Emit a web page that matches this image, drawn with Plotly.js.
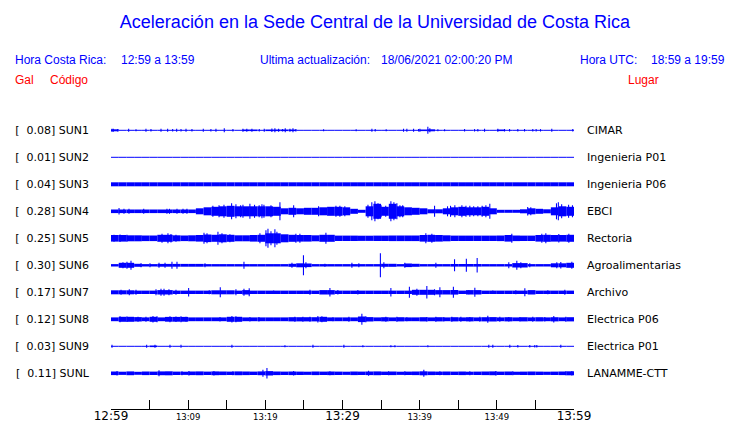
<!DOCTYPE html>
<html>
<head>
<meta charset="utf-8">
<script src="https://cdn.plot.ly/plotly-3.0.1.min.js"></script>
<style>html,body{margin:0;padding:0;background:#fff;}#chart{width:740px;height:423px;}</style>
</head>
<body>
<div id="chart"></div>
<script>
// ---------------- DATA ----------------
const stations = ['SUN1','SUN2','SUN3','SUN4','SUN5','SUN6','SUN7','SUN8','SUN9','SUNL'];
const peakGal = [0.08,0.01,0.04,0.28,0.25,0.30,0.17,0.12,0.03,0.11];
const places = ['CIMAR','Ingenieria P01','Ingenieria P06','EBCI','Rectoria','Agroalimentarias','Archivo','Electrica P06','Electrica P01','LANAMME-CTT'];
const tickMinutes = [0,5,10,15,20,25,30,35,40,45,50,55,60];
const tickLabels = ['12:59','','13:09','','13:19','','13:29','','13:39','','13:49','','13:59'];

// per-minute envelope (half amplitude) of each record, minutes 0..59 after 12:59
const sun1Env = [1,0.5,0.5,0.5,0.5,0.5,0.5,0.5,0.5,0.5, 0.5,0.5,0.5,0.5,0.5,0.5,0.5,0.8,0.8,0.5, 0.8,0.8,0.8,0.8,0.5,0.5,0.5,0.5,0.5,0.5, 0.5,0.5,0.5,0.5,0.5,0.5,0.5,0.5,0.5,0.5, 0.8,1,0.5,0.5,0.5,0.5,0.5,0.5,0.5,0.5, 0.8,0.5,0.5,0.5,0.5,0.5,0.5,0.5,0.5,0.5];
const sun2Env = [0.5,0.5,0.5,0.5,0.5,0.5,0.5,0.5,0.5,0.5, 0.5,0.5,0.5,0.5,0.5,0.5,0.5,0.5,0.5,0.5, 0.5,0.5,0.5,0.5,0.5,0.5,0.5,0.5,0.5,0.5, 0.5,0.5,0.5,0.5,0.5,0.5,0.5,0.5,0.5,0.5, 0.5,0.5,0.5,0.5,0.5,0.5,0.5,0.5,0.5,0.5, 0.5,0.5,0.5,0.5,0.5,0.5,0.5,0.5,0.5,0.5];
const sun3Env = [2,2,2,2,2,2,2,2,2,2, 2,2,2,2,2,2,2,2,2,2, 2,2,2,2,2,2,2,2,2,2, 2,2,2,2,2,2,2,2,2,2, 2,2,2,2,2,2,2,2,2,2, 2,2,2,2,2,2,2,2,2,2];
const sun4Env = [1.8,1.8,1.8,1.8,1.8,1.8,1.8,1.8,1.8,1.8, 1.8,3,4,4.5,5,5.5,5,5,5,5, 5,4.5,3,3.5,3,3.5,3.5,4,4.5,4.5, 4,2.5,1.5,5,7.5,4.5,7.5,5,4,3.5, 3,2,2,3,4,4.5,4,4,4.5,3, 1.5,1.5,1.5,2,3,2.5,2,4,5,4.5];
const sun5Env = [3.3,3.3,3,3,2.8,2.8,3.5,3.5,3,2.8, 3,3.3,3.8,3.5,4,3.5,3,3,3.3,3.5, 5,5,4,3.5,3.3,3.3,3,3.5,3.5,2.7, 2.7,2.7,2.6,2.6,2.7,2.7,2.8,2.8,2.8,2.8, 3.3,3.5,3.3,3,2.7,2.7,2.7,2.7,2.7,2.7, 2.8,3.3,2.8,2.7,2.7,3.3,3.5,3.3,3.3,3.5];
const sun6Env = [1.2,2.5,2.5,1.5,1.2,1.2,1.4,1.4,1.4,1.4, 1.4,1.4,1.2,1.2,1.2,1.2,1.2,1.2,1.2,1.2, 1.2,1.2,1.2,1.5,2,1.8,1.2,1.2,1.2,1.2, 1.2,1.2,1.2,1.2,1.2,1.5,1.5,1.2,1.8,1.5, 1.2,1.2,1.2,1.2,1.3,1.3,1.3,1.3,1.2,1.2, 1.2,1.2,2.2,2.2,1.2,1.2,1.2,2,2,2.5];
const sun7Env = [2,2,2,1.7,1.7,1.7,2.2,2.2,1.7,1.7, 1.7,1.7,1.7,2,2,2,1.7,2.2,1.7,1.7, 1.7,1.7,1.7,1.7,1.7,1.7,1.7,2.2,2.2,1.7, 1.7,1.7,1.7,1.7,1.7,1.7,1.7,1.7,1.7,2.5, 2.5,2.5,2.2,2.2,2.3,1.7,2.2,2.2,1.7,1.7, 1.7,1.7,1.7,1.7,2.2,1.7,1.7,1.7,1.7,1.7];
const sun8Env = [1.9,2.5,2.5,2.2,1.9,2.5,1.9,2.4,2.4,2.4, 1.9,1.9,1.9,1.9,1.9,2.5,2.5,1.9,1.9,1.9, 1.9,1.9,1.9,2.1,2.1,2.1,2.1,2.5,1.9,1.9, 1.9,1.9,2.8,2.2,1.9,2.1,1.9,2.1,1.9,1.9, 2.1,1.9,2.1,1.9,2.1,1.9,2.1,1.9,2.1,2.2, 1.9,2.1,1.9,2.1,1.9,2.1,1.9,2.1,1.9,2.1];
const sun9Env = [0.5,0.5,0.5,0.5,0.5,0.8,0.5,0.5,0.5,0.5, 0.5,0.5,0.5,0.5,0.5,0.5,0.5,0.5,0.5,0.5, 0.5,0.5,0.5,0.5,0.5,0.5,0.5,0.5,0.5,0.5, 0.5,0.5,0.5,0.5,0.5,0.5,0.5,0.5,0.5,0.5, 0.5,0.5,0.5,0.5,0.5,0.5,0.5,0.5,0.5,0.5, 0.5,0.5,0.5,0.5,0.5,0.5,0.5,0.5,0.5,0.5];
const sunLEnv = [1.8,1.6,1.9,1.5,1.8,1.7,1.9,2,1.7,1.6, 1.8,1.9,1.7,1.9,1.8,1.7,1.9,1.8,1.7,1.9, 2.2,1.8,1.7,1.8,1.7,1.6,1.8,1.7,1.8,1.7, 1.6,1.8,1.7,1.8,1.9,1.7,1.8,1.6,1.7,1.8, 2,1.8,1.7,1.8,1.7,1.8,1.6,1.7,1.8,1.9, 1.7,1.8,1.6,1.7,1.8,1.7,1.6,1.7,1.8,2];

// individual peaks: [minute after 12:59, half amplitude]
const sun1Peaks = [[0.13,1.5],[0.3,1.5],[0.87,1.2],[2.29,1.5],[3.24,1],[4.53,1.5],[5.18,1.2],[6.48,1.5],[7.34,1.5],[7.99,1.2],[8.51,1.5],[9.07,1.2],[9.72,1.5],[10.49,1.2],[11.96,1.5],[12.95,1.2],[13.6,1.5],[14.68,2],[15.8,1.2],[17.1,1.5],[17.6,1.5],[18.26,1.5],[19.21,1.2],[19.86,1.5],[20.85,1.8],[21.24,2],[21.72,1.5],[22.24,1.2],[22.58,2],[23.19,1.5],[23.58,2],[23.96,1.2],[27.55,1],[31.77,1],[33.81,1.5],[34.24,1.2],[35.66,1],[37.91,1.5],[38.34,1.5],[39.21,1.5],[39.86,1.2],[40.03,1.5],[41.06,3.5],[41.32,2],[42.36,1],[43.23,1],[45.82,1.2],[47.11,1.2],[47.54,1.2],[48.41,1.5],[50.13,1.5],[51.0,1.2],[51.65,1.2],[52.72,1.2],[53.59,1.2],[54.66,1.2],[55.09,1.2],[55.66,1.2],[57.12,1.5],[59.84,1.2]];
const sun2Peaks = [];
const sun3Peaks = [];
const sun4Peaks = [[1.04,3.3],[1.68,2.5],[2.33,2.5],[4.24,2.5],[7.25,2.5],[7.58,2.5],[8.55,2.5],[9.33,2.5],[9.84,2.5],[13.2,5.5],[14.0,6],[14.64,6.5],[15.63,8],[16.19,7],[16.8,6],[17.1,6.5],[18.0,7.5],[18.6,6.5],[19.2,6],[19.56,7],[19.82,6.5],[20.73,6],[21.89,9],[23.67,6],[26.9,5],[29.15,5.5],[29.66,5.5],[30.3,5],[33.3,6.5],[33.8,9],[34.2,10],[34.6,8],[35.0,6],[35.6,5.5],[36.27,10],[36.66,9],[37.05,8],[37.44,6],[37.8,6],[41.93,5.5],[43.61,5],[44.0,5.5],[44.56,6],[45.47,6],[46.0,5.5],[46.5,5.5],[47.0,5],[47.54,5],[48.1,5.5],[48.58,6],[49.09,7.5],[54.0,4.3],[54.4,4],[57.73,8],[57.97,9],[58.4,7],[59.3,6.5],[59.8,6]];
const sun5Peaks = [[0.39,3.5],[1.17,3.8],[2.07,3.5],[6.61,4.5],[7.38,5],[7.77,4.3],[8.42,3.5],[12.05,5.5],[12.44,5],[13.86,6.5],[14.38,5],[15.41,4],[19.3,5],[20.08,8],[20.34,9.5],[20.73,7],[21.24,9],[21.5,6.5],[23.96,4.5],[24.48,4.5],[27.85,5.5],[40.8,5],[41.58,4.5],[51.94,4.5],[55.83,4.5],[56.35,5],[58.03,4.3],[59.33,4.5]];
const sun6Peaks = [[1.55,3],[2.07,3.5],[2.59,4.5],[3.89,2],[5.05,2],[6.22,2.5],[7.0,2.5],[7.9,3.5],[8.55,3.5],[12.18,2],[17.23,3.5],[23.45,2.5],[24.94,10],[25.26,3],[27.72,1.5],[31.22,2.5],[32.12,2],[34.91,12],[35.36,3],[38.08,2.5],[42.1,2.5],[44.52,6],[46.05,6.5],[47.45,7.3],[51.55,3],[52.59,4.5],[53.11,3],[54.27,2],[57.77,3],[58.29,3.3],[59.72,3.5]];
const sun7Peaks = [[1.3,2.5],[2.37,3],[3.24,2.5],[5.83,3],[6.48,3.5],[6.87,3.5],[7.51,3],[8.42,2.5],[10.06,4.2],[12.73,2],[14.16,5],[16.19,3],[17.23,3.5],[17.91,4],[21.08,1.8],[25.78,2.5],[28.37,4.3],[29.4,2.2],[31.99,2.2],[36.27,4.2],[38.67,5.5],[39.64,3.5],[40.93,6.3],[41.93,3],[42.62,5],[44.37,5.5],[46.37,2],[47.15,4.5],[49.48,1.8],[52.46,2],[53.63,4],[56.61,2],[58.81,2.5]];
const sun8Peaks = [[1.17,3],[2.07,2.8],[3.5,2.5],[4.53,2.5],[5.44,3.2],[5.96,3],[7.64,3],[8.42,2.8],[9.07,3],[9.72,2.5],[14.12,2.3],[15.67,3.3],[16.19,3],[18.0,2.3],[19.17,2.3],[23.83,2.5],[24.87,2.5],[25.78,2.5],[26.81,3.3],[27.33,3],[28.76,2],[30.83,2.5],[32.51,5.5],[33.03,3],[35.62,2.5],[37.05,2.5],[38.34,2],[40.93,2.3],[42.1,2.5],[43.13,2.3],[44.17,2.5],[45.34,2.5],[46.5,2.3],[47.8,2.5],[48.83,3.5],[50.39,2.5],[51.55,2.3],[52.98,2.3],[54.66,2.5],[56.22,2.3],[57.38,3.3],[58.94,2.5]];
const sun9Peaks = [[0.13,1.5],[4.62,1.5],[5.7,1.5],[7.64,1.5],[9.07,1.5],[15.67,1.5],[22.54,1],[26.17,1.5],[30.18,1.5],[32.64,1],[36.27,1],[36.79,1],[41.06,1],[48.96,1.5],[49.48,1.5],[51.68,1.5],[52.72,1.3],[54.27,1.3],[54.92,1.3],[55.18,1.3],[58.29,1.5]];
const sunLPeaks = [[0.78,2.3],[6.22,3],[9.2,2],[10.1,2.3],[13.34,2.3],[15.8,2],[19.69,3.5],[20.21,5.3],[23.67,2.3],[28.37,2],[33.38,2.5],[35.97,2],[38.08,2],[40.54,3.5],[42.62,2],[46.5,2],[49.87,2.3],[52.07,2],[58.94,2],[59.72,2.3]];

// ---------------- LAYOUT CONSTANTS ----------------
const W = 740, H = 423;
const ML = 111, MR = 166, MT = 115, MB = 14;
const ROW_STEP = 27;          // axis units between records
const TOP_PAD = 15.3;         // axis units above first record
const BLUE = '#0000ff', RED = '#ff0000';
const PLOT_W = W - ML - MR, PLOT_H = H - MT - MB;
const yRange = [PLOT_H - TOP_PAD, -TOP_PAD];

const envs = [sun1Env,sun2Env,sun3Env,sun4Env,sun5Env,sun6Env,sun7Env,sun8Env,sun9Env,sunLEnv];
const peaks = [sun1Peaks,sun2Peaks,sun3Peaks,sun4Peaks,sun5Peaks,sun6Peaks,sun7Peaks,sun8Peaks,sun9Peaks,sunLPeaks];
const centers = stations.map((s, i) => i * ROW_STEP);

const traces = [];
envs.forEach((env, i) => {
  const c = centers[i];
  traces.push({
    type: 'bar', x: env.map((a, k) => k + 0.5), y: env.map(a => 2 * a), base: env.map(a => c - a),
    width: 1, marker: { color: 'rgba(0,0,255,0.999)', line: { width: 0 } }, hoverinfo: 'skip'
  });
  const pk = peaks[i];
  if (pk.length) {
    traces.push({
      type: 'bar', x: pk.map(p => p[0]), y: pk.map(p => 2 * p[1]), base: pk.map(p => c - p[1]),
      width: 0.14, marker: { color: 'rgba(0,0,255,0.999)', line: { width: 0 } }, hoverinfo: 'skip'
    });
  }
});
// dummy trace so the right-hand axis is drawn
traces.push({ type: 'scatter', x: [null], y: [null], yaxis: 'y2', mode: 'markers', hoverinfo: 'skip' });

const leftLabels = stations.map((s, i) => '[\u00a0\u00a0' + peakGal[i].toFixed(2) + '] ' + s);
const xTickText = tickLabels.map((t, i) => (i % 6 === 0 || t === '') ? t : '<span style="font-size:8.5px">' + t + '</span>');

const px = x => (x - ML) / PLOT_W;
const py = y => (H - MB - y) / PLOT_H;
const hdrFont = (c) => ({ family: 'Liberation Sans, Arial, sans-serif', size: 12, color: c });
const ann = (text, x, y, color) => ({
  text, x: px(x), y: py(y), xref: 'paper', yref: 'paper', xanchor: 'left', yanchor: 'middle',
  showarrow: false, font: hdrFont(color), borderpad: 0
});

const layout = {
  width: W, height: H,
  margin: { l: ML, r: MR, t: MT, b: MB, pad: 0 },
  paper_bgcolor: '#fff', plot_bgcolor: '#fff',
  showlegend: false, hovermode: false, barmode: 'overlay',
  title: {
    text: 'Aceleración en la Sede Central de la Universidad de Costa Rica',
    font: { family: 'Liberation Sans, Arial, sans-serif', size: 18, color: BLUE },
    x: 375 / W, xanchor: 'center', y: 1 - 22 / H, yanchor: 'middle'
  },
  xaxis: {
    range: [0, 60], tickmode: 'array', tickvals: tickMinutes, ticktext: xTickText,
    ticks: 'inside', ticklen: 9, tickwidth: 1, tickcolor: '#000', ticklabelstandoff: -4,
    showline: true, linecolor: '#000', linewidth: 1, showgrid: false, zeroline: false,
    tickfont: { family: 'DejaVu Sans', size: 12, color: '#000' }, fixedrange: true
  },
  yaxis: {
    range: yRange, tickmode: 'array', tickvals: centers, ticktext: leftLabels,
    ticks: '', showline: false, showgrid: false, zeroline: false, ticklabelstandoff: 21,
    tickfont: { family: 'DejaVu Sans', size: 11, color: '#000' }, fixedrange: true
  },
  yaxis2: {
    range: yRange, overlaying: 'y', side: 'right', tickmode: 'array', tickvals: centers, ticktext: places,
    ticks: '', showline: false, showgrid: false, zeroline: false, ticklabelstandoff: 12,
    tickfont: { family: 'DejaVu Sans', size: 11, color: '#000' }, fixedrange: true
  },
  annotations: [
    ann('Hora Costa Rica:', 14, 60, BLUE),
    ann('12:59 a 13:59', 120, 60, BLUE),
    ann('Ultima actualización:', 259, 60, BLUE),
    ann('18/06/2021 02:00:20 PM', 380, 60, BLUE),
    ann('Hora UTC:', 579, 60, BLUE),
    ann('18:59 a 19:59', 650, 60, BLUE),
    ann('Gal', 14, 80, RED),
    ann('Código', 49, 80, RED),
    ann('Lugar', 627, 80, RED)
  ]
};

Plotly.newPlot('chart', traces, layout, { displayModeBar: false, staticPlot: true });
</script>
</body>
</html>
